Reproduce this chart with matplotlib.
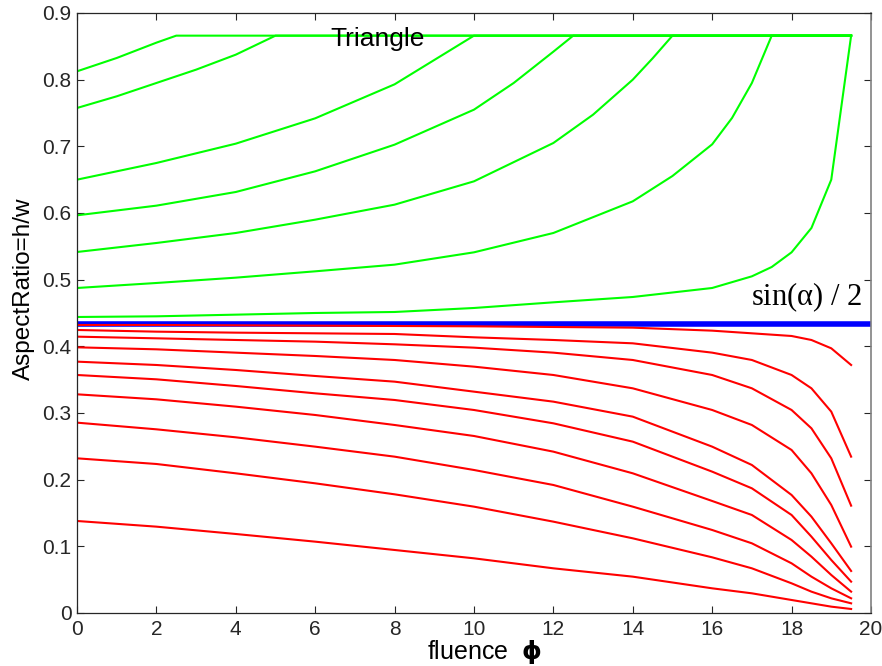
import numpy as np
import matplotlib
matplotlib.rcParams['font.family'] = ['Liberation Sans', 'DejaVu Sans']
matplotlib.rcParams['mathtext.fontset'] = 'dejavusans'
import matplotlib.pyplot as plt
plt.switch_backend('agg')

# fluence samples shared by the red (below critical) curves
phi_red = [0, 2, 4, 6, 8, 10, 12, 14, 16, 17, 18, 18.5, 19, 19.5]
ar_red1 = [0.138, 0.1295, 0.1185, 0.107, 0.0945, 0.082, 0.067, 0.0545, 0.037, 0.0295, 0.0195, 0.0145, 0.0095, 0.006]
ar_red2 = [0.232, 0.2235, 0.2095, 0.1945, 0.178, 0.1595, 0.137, 0.112, 0.0835, 0.067, 0.0445, 0.032, 0.022, 0.0145]
ar_red3 = [0.2855, 0.2755, 0.2635, 0.2495, 0.2345, 0.2145, 0.192, 0.1595, 0.1245, 0.1045, 0.0745, 0.0545, 0.037, 0.022]
ar_red4 = [0.328, 0.3205, 0.3095, 0.297, 0.282, 0.2655, 0.242, 0.2095, 0.168, 0.147, 0.1095, 0.0845, 0.057, 0.032]
ar_red5 = [0.357, 0.3505, 0.3405, 0.3295, 0.3195, 0.3045, 0.2845, 0.257, 0.212, 0.187, 0.147, 0.1145, 0.0795, 0.047]
ar_red6 = [0.377, 0.372, 0.3645, 0.3555, 0.347, 0.332, 0.317, 0.2945, 0.2495, 0.222, 0.177, 0.1445, 0.1045, 0.063]
ar_red7 = [0.3985, 0.3955, 0.3905, 0.3855, 0.3795, 0.3695, 0.357, 0.337, 0.3045, 0.282, 0.2445, 0.2095, 0.162, 0.0995]
ar_red8 = [0.4145, 0.412, 0.4095, 0.407, 0.403, 0.398, 0.3905, 0.3795, 0.357, 0.337, 0.3045, 0.277, 0.232, 0.161]
ar_red9 = [0.4245, 0.422, 0.4205, 0.4195, 0.4185, 0.4135, 0.4095, 0.4045, 0.3905, 0.3795, 0.357, 0.337, 0.302, 0.2345]
ar_red10 = [0.432, 0.432, 0.4315, 0.431, 0.4305, 0.43, 0.429, 0.428, 0.4235, 0.4195, 0.4155, 0.4095, 0.397, 0.372]

# green (above critical) curves, each saturating at the triangle value
phi_g1 = [0, 1, 2, 2.5, 19.5]
ar_g1 = [0.8125, 0.8325, 0.8555, 0.866, 0.866]
phi_g2 = [0, 1, 2, 3, 4, 5, 19.5]
ar_g2 = [0.7575, 0.775, 0.795, 0.815, 0.8375, 0.866, 0.866]
phi_g3 = [0, 2, 4, 6, 8, 9, 10, 19.5]
ar_g3 = [0.65, 0.675, 0.704, 0.742, 0.793, 0.8295, 0.866, 0.866]
phi_g4 = [0, 2, 4, 6, 8, 10, 11, 12, 12.5, 19.5]
ar_g4 = [0.5965, 0.611, 0.6315, 0.6625, 0.7025, 0.755, 0.795, 0.842, 0.866, 0.866]
phi_g5 = [0, 2, 4, 6, 8, 10, 12, 13, 14, 14.5, 15, 19.5]
ar_g5 = [0.5415, 0.555, 0.57, 0.59, 0.6125, 0.6475, 0.705, 0.7475, 0.8, 0.832, 0.866, 0.866]
phi_g6 = [0, 2, 4, 6, 8, 10, 12, 14, 15, 16, 16.5, 17, 17.5, 19.5]
ar_g6 = [0.4875, 0.495, 0.503, 0.5125, 0.5225, 0.541, 0.57, 0.6175, 0.6555, 0.703, 0.7425, 0.795, 0.866, 0.866]
phi_g7 = [0, 2, 4, 6, 8, 10, 12, 14, 16, 17, 17.5, 18, 18.5, 19, 19.5]
ar_g7 = [0.444, 0.445, 0.4475, 0.45, 0.4515, 0.4575, 0.466, 0.474, 0.4875, 0.505, 0.519, 0.541, 0.5775, 0.65, 0.866]

# critical aspect ratio sin(alpha)/2 for alpha = 60 deg
phi_crit = [0, 20]
ar_crit = [np.sin(np.pi / 3) / 2] * 2

green_curves = [(phi_g1, ar_g1), (phi_g2, ar_g2), (phi_g3, ar_g3), (phi_g4, ar_g4),
                (phi_g5, ar_g5), (phi_g6, ar_g6), (phi_g7, ar_g7)]
red_curves = [ar_red1, ar_red2, ar_red3, ar_red4, ar_red5,
              ar_red6, ar_red7, ar_red8, ar_red9, ar_red10]

fig = plt.figure(figsize=(8.82, 6.66), dpi=100)
ax = fig.add_axes([0.0873, 0.0796, 0.9002, 0.9009])

for phi, ar in green_curves:
    ax.plot(phi, ar, color='#00ff00', linewidth=1.5)
ax.plot(phi_crit, ar_crit, color='#0000ff', linewidth=4)
for ar in red_curves:
    ax.plot(phi_red, ar, color='#ff0000', linewidth=1.5)

ax.text(6.37, 0.851, 'Triangle', fontsize=19, ha='left', va='baseline')
ax.text(16.98, 0.461, r'sin($\mathregular{\alpha}$) / 2', fontsize=22,
        family='Liberation Serif', ha='left', va='baseline')

ax.set_xlim(0, 20)
ax.set_ylim(0, 0.9)
ax.set_xticks(np.arange(0, 21, 2))
ax.set_yticks(np.arange(0, 0.91, 0.1))
ax.set_yticklabels(['0', '0.1', '0.2', '0.3', '0.4', '0.5', '0.6', '0.7', '0.8', '0.9'])
ax.tick_params(direction='in', length=5, width=0.8, top=True, right=True,
               labelsize=15, colors='0.15')
ax.tick_params(axis='x', pad=5)
ax.tick_params(axis='y', pad=4)
for side in ['left', 'bottom', 'top']:
    ax.spines[side].set_color('0.15')
    ax.spines[side].set_linewidth(0.9)
ax.spines['right'].set_color('0.5')
ax.spines['right'].set_linewidth(1.2)

ax.set_xlabel(r'fluence  $\mathbf{\phi}$', fontsize=18)
ax.xaxis.set_label_coords(0.5126, -0.0767, transform=ax.transAxes)
ax.xaxis.label.set_va('baseline')
ax.set_ylabel('AspectRatio=h/w', fontsize=17.5)
ax.yaxis.set_label_coords(-0.053, 0.54)

plt.savefig('out.png', dpi=100)
plt.close()
